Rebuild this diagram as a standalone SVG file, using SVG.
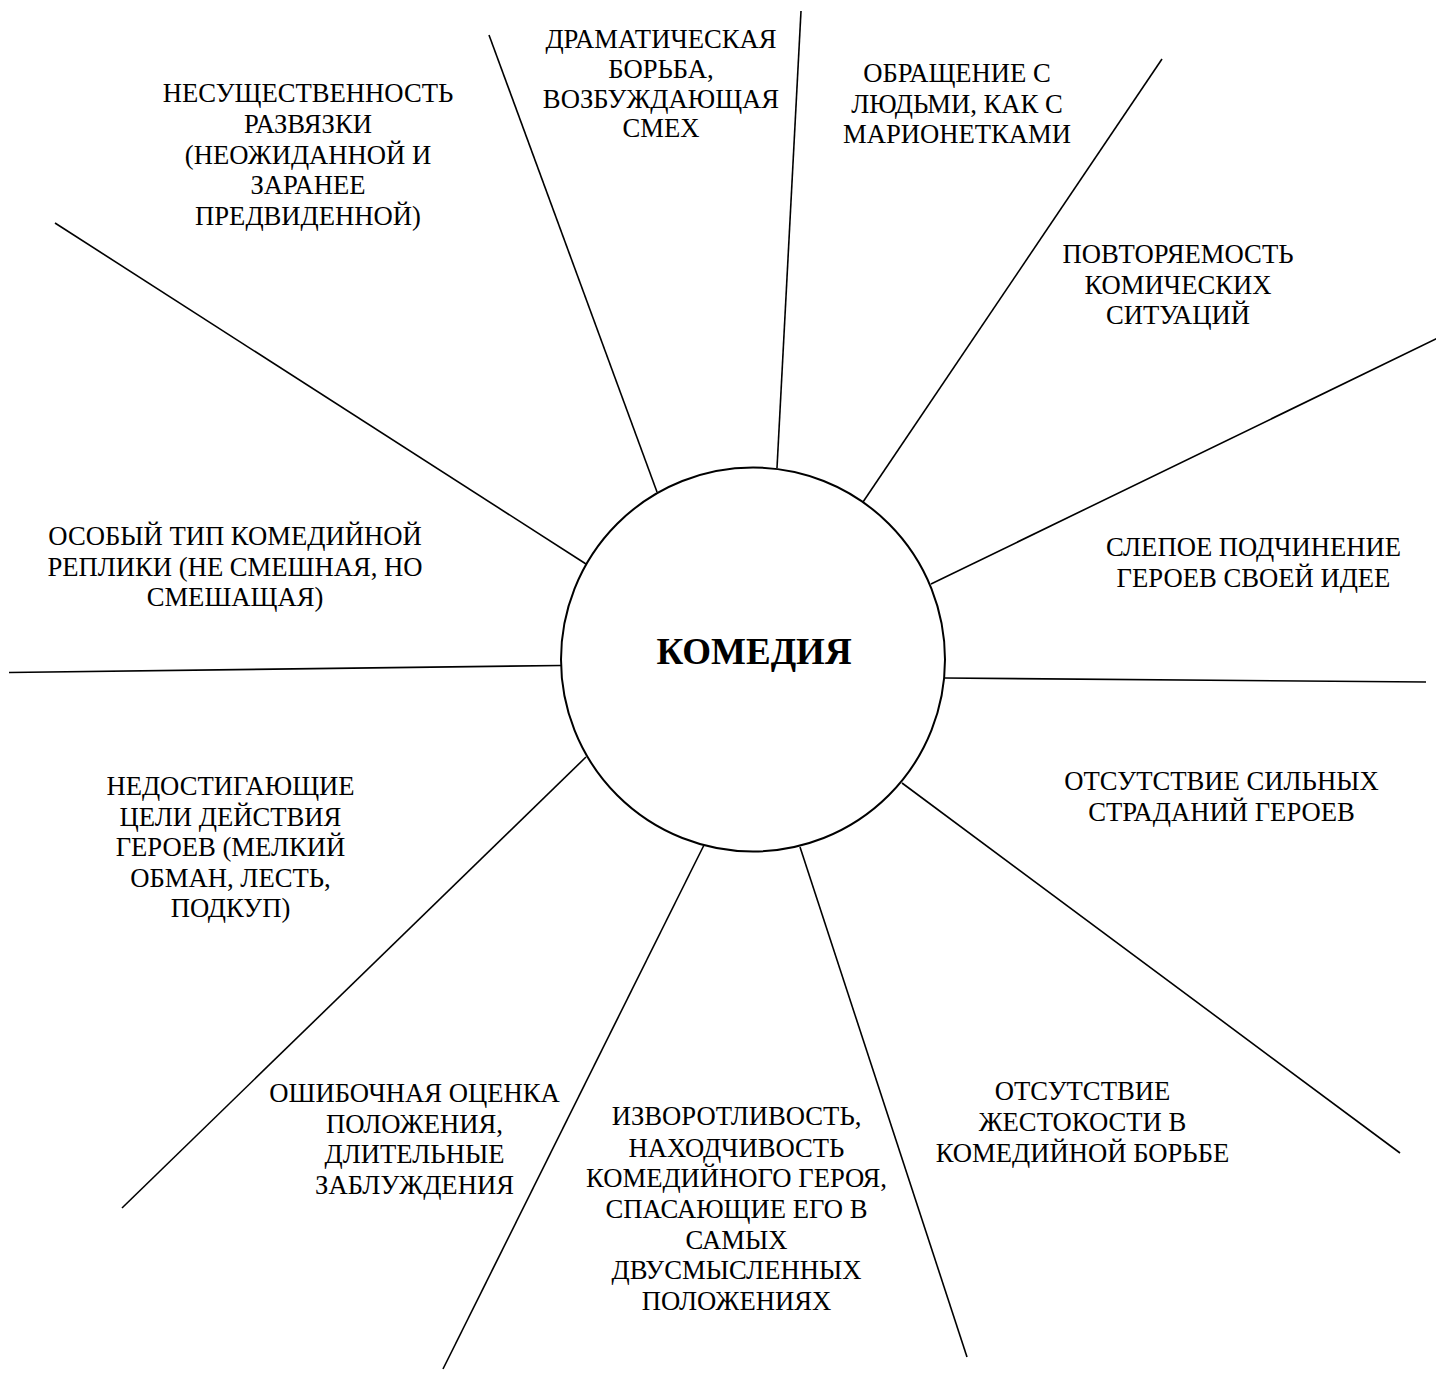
<svg xmlns="http://www.w3.org/2000/svg" width="1436" height="1377" viewBox="0 0 1436 1377">
<style>
.t{font-family:"Liberation Serif","Times New Roman",serif;font-size:26.67px;fill:#000;text-anchor:middle}
.c{font-family:"Liberation Serif","Times New Roman",serif;font-size:37px;font-weight:bold;fill:#000;text-anchor:middle}
.ln{stroke:#000;stroke-width:1.6;fill:none}
</style>
<rect width="1436" height="1377" fill="#fff"/>
<g id="connectors">
<line class="ln" x1="489" y1="35" x2="657" y2="492"/>
<line class="ln" x1="801" y1="11" x2="777" y2="468"/>
<line class="ln" x1="1162" y1="59" x2="863" y2="502"/>
<line class="ln" x1="1440" y1="337" x2="931" y2="584"/>
<line class="ln" x1="944" y1="678" x2="1426" y2="682"/>
<line class="ln" x1="902" y1="783" x2="1400" y2="1153"/>
<line class="ln" x1="800" y1="847" x2="967" y2="1357"/>
<line class="ln" x1="705" y1="843" x2="443" y2="1369"/>
<line class="ln" x1="586" y1="757" x2="122" y2="1208"/>
<line class="ln" x1="9" y1="672.5" x2="561" y2="665.5"/>
<line class="ln" x1="55" y1="223" x2="586" y2="564"/>
</g>
<g id="center">
<circle cx="753" cy="659.5" r="192" fill="#fff" stroke="#000" stroke-width="2"/>
<text class="c" x="754" y="664">КОМЕДИЯ</text>
</g>
<g id="n1"><text class="t" x="308" y="101.5">НЕСУЩЕСТВЕННОСТЬ<tspan x="308" y="132.5">РАЗВЯЗКИ</tspan><tspan x="308" y="163.5">(НЕОЖИДАННОЙ И</tspan><tspan x="308" y="194">ЗАРАНЕЕ</tspan><tspan x="308" y="225">ПРЕДВИДЕННОЙ)</tspan></text></g>
<g id="n2"><text class="t" x="661" y="48">ДРАМАТИЧЕСКАЯ<tspan x="661" y="78">БОРЬБА,</tspan><tspan x="661" y="107.5">ВОЗБУЖДАЮЩАЯ</tspan><tspan x="661" y="137">СМЕХ</tspan></text></g>
<g id="n3"><text class="t" x="957" y="82">ОБРАЩЕНИЕ С<tspan x="957" y="112.7">ЛЮДЬМИ, КАК С</tspan><tspan x="957" y="143.3">МАРИОНЕТКАМИ</tspan></text></g>
<g id="n4"><text class="t" x="1178" y="263.3">ПОВТОРЯЕМОСТЬ<tspan x="1178" y="293.5">КОМИЧЕСКИХ</tspan><tspan x="1178" y="324">СИТУАЦИЙ</tspan></text></g>
<g id="n5"><text class="t" x="1253.5" y="556">СЛЕПОЕ ПОДЧИНЕНИЕ<tspan x="1253.5" y="587">ГЕРОЕВ СВОЕЙ ИДЕЕ</tspan></text></g>
<g id="n6"><text class="t" x="1221.5" y="790">ОТСУТСТВИЕ СИЛЬНЫХ<tspan x="1221.5" y="821">СТРАДАНИЙ ГЕРОЕВ</tspan></text></g>
<g id="n7"><text class="t" x="1082.5" y="1100">ОТСУТСТВИЕ<tspan x="1082.5" y="1131">ЖЕСТОКОСТИ В</tspan><tspan x="1082.5" y="1161.5">КОМЕДИЙНОЙ БОРЬБЕ</tspan></text></g>
<g id="n8"><text class="t" x="736.5" y="1125">ИЗВОРОТЛИВОСТЬ,<tspan x="736.5" y="1156.5">НАХОДЧИВОСТЬ</tspan><tspan x="736.5" y="1187.3">КОМЕДИЙНОГО ГЕРОЯ,</tspan><tspan x="736.5" y="1218.3">СПАСАЮЩИЕ ЕГО В</tspan><tspan x="736.5" y="1248.5">САМЫХ</tspan><tspan x="736.5" y="1279.3">ДВУСМЫСЛЕННЫХ</tspan><tspan x="736.5" y="1310">ПОЛОЖЕНИЯХ</tspan></text></g>
<g id="n9"><text class="t" x="414.5" y="1101.7">ОШИБОЧНАЯ ОЦЕНКА<tspan x="414.5" y="1132.7">ПОЛОЖЕНИЯ,</tspan><tspan x="414.5" y="1163.3">ДЛИТЕЛЬНЫЕ</tspan><tspan x="414.5" y="1194">ЗАБЛУЖДЕНИЯ</tspan></text></g>
<g id="n10"><text class="t" x="230.5" y="795">НЕДОСТИГАЮЩИЕ<tspan x="230.5" y="825.5">ЦЕЛИ ДЕЙСТВИЯ</tspan><tspan x="230.5" y="856">ГЕРОЕВ (МЕЛКИЙ</tspan><tspan x="230.5" y="886.7">ОБМАН, ЛЕСТЬ,</tspan><tspan x="230.5" y="917">ПОДКУП)</tspan></text></g>
<g id="n11"><text class="t" x="235" y="545">ОСОБЫЙ ТИП КОМЕДИЙНОЙ<tspan x="235" y="576">РЕПЛИКИ (НЕ СМЕШНАЯ, НО</tspan><tspan x="235" y="606">СМЕШАЩАЯ)</tspan></text></g>
</svg>
